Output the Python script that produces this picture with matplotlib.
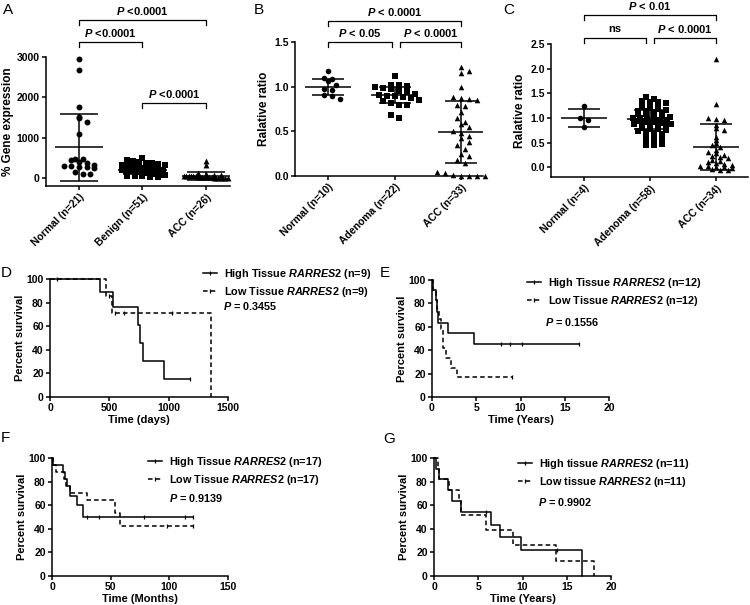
import matplotlib
matplotlib.use("Agg")
import matplotlib.pyplot as plt
import matplotlib.transforms as mtransforms
from matplotlib.lines import Line2D
import numpy as np

plt.rcParams["font.family"] = ["Liberation Sans", "DejaVu Sans"]
plt.rcParams["font.weight"] = "bold"
plt.rcParams["axes.labelweight"] = "bold"
plt.rcParams["mathtext.fontset"] = "custom"
plt.rcParams["mathtext.it"] = "Liberation Sans:italic:bold"
plt.rcParams["mathtext.rm"] = "Liberation Sans:bold"

W, H = 750, 605

# ---- panel A: % gene expression ----
a_labels = ["Normal (n=21)", "Benign (n=51)", "ACC (n=26)"]
a_normal = [2950, 2680, 1750, 1500, 1480, 1380, 1100, 480, 460, 440, 400, 370,
            330, 300, 290, 280, 270, 250, 150, 100, 100]
a_benign = [500, 450, 420, 400, 380, 360, 350, 330, 320, 310, 300, 290, 280, 270,
            260, 250, 250, 240, 230, 220, 220, 210, 200, 200, 190, 190, 180, 180,
            170, 170, 160, 160, 150, 150, 140, 140, 130, 130, 120, 120, 110, 100,
            100, 90, 80, 70, 60, 50, 40, 30, 20]
a_acc = [420, 320, 120, 100, 80, 70, 60, 55, 50, 45, 40, 40, 35, 30, 30, 25, 20,
         20, 15, 10, 10, 5, 5, 0, 0, 0]
a_mean = [760, 205, 55]
a_sd = [830, 100, 95]

# ---- panel B ----
b_labels = ["Normal (n=10)", "Adenoma (n=22)", "ACC (n=33)"]
b_normal = [1.17, 1.10, 1.09, 1.06, 1.02, 0.97, 0.96, 0.91, 0.90, 0.86]
b_adenoma = [1.12, 1.02, 1.02, 1.01, 1.00, 0.98, 0.97, 0.95, 0.94, 0.92, 0.91,
             0.90, 0.89, 0.88, 0.87, 0.85, 0.84, 0.82, 0.80, 0.79, 0.68, 0.65]
b_acc = [1.22, 1.18, 1.15, 1.00, 0.88, 0.87, 0.86, 0.85, 0.80, 0.78, 0.72, 0.65,
         0.60, 0.58, 0.55, 0.50, 0.48, 0.45, 0.42, 0.38, 0.35, 0.30, 0.25, 0.22,
         0.18, 0.15, 0.04, 0.03, 0.01, 0.0, 0.0, 0.0, 0.0]
b_mean = [1.0, 0.91, 0.49]
b_sd = [0.09, 0.09, 0.35]

# ---- panel C ----
c_labels = ["Normal (n=4)", "Adenoma (n=58)", "ACC (n=34)"]
c_normal = [1.25, 1.0, 0.95, 0.82]
c_adenoma = [1.43, 1.38, 1.35, 1.33, 1.32, 1.30, 1.28, 1.26, 1.25, 1.22, 1.20,
             1.18, 1.17, 1.15, 1.14, 1.12, 1.10, 1.08, 1.07, 1.05, 1.04, 1.02,
             1.00, 0.99, 0.98, 0.97, 0.96, 0.95, 0.94, 0.93, 0.92, 0.91, 0.90,
             0.89, 0.88, 0.87, 0.85, 0.84, 0.83, 0.81, 0.80, 0.78, 0.77, 0.75,
             0.73, 0.72, 0.70, 0.68, 0.66, 0.63, 0.60, 0.58, 0.55, 0.52, 0.50,
             0.47, 0.45, 0.44]
c_acc = [2.20, 1.28, 1.00, 0.97, 0.95, 0.85, 0.80, 0.75, 0.62, 0.55, 0.50, 0.45,
         0.40, 0.35, 0.30, 0.28, 0.25, 0.22, 0.20, 0.18, 0.15, 0.12, 0.10, 0.08,
         0.06, 0.05, 0.03, 0.02, 0.0, 0.0, -0.02, -0.04, -0.05, -0.05]
c_mean = [1.0, 0.97, 0.41]
c_sd = [0.18, 0.20, 0.47]

# ---- survival curves: step times, survival %, censor times ----
d_high_t = [0, 421, 530, 745, 762, 780, 962, 1180]
d_high_s = [100, 88.9, 76.2, 61.0, 45.7, 30.5, 15.2, 15.2]
d_high_cens = [60, 1180]
d_low_t = [0, 472, 522, 1355]
d_low_s = [100, 85.7, 71.4, 0]
d_low_cens = [495, 545, 620, 1030]

e_high_t = [0, 0.1, 0.4, 0.6, 0.7, 1.8, 4.75, 16.6]
e_high_s = [100, 91.7, 83.3, 72.7, 63.6, 54.5, 45.5, 45.5]
e_high_cens = [7.8, 8.8, 10.2, 16.6]
e_low_t = [0, 0.15, 0.4, 0.6, 0.8, 1.0, 1.2, 1.6, 2.2, 2.8, 9.0]
e_low_s = [100, 91.7, 83.3, 75.0, 66.7, 58.3, 41.7, 33.3, 25.0, 16.7, 16.7]
e_low_cens = [9.0]

f_high_t = [0, 1, 9, 11, 13, 15, 21, 26, 120]
f_high_s = [100, 94.1, 88.2, 82.4, 76.5, 68.0, 60.0, 50.0, 50.0]
f_high_cens = [30, 40, 78, 113, 120]
f_low_t = [0, 1, 3, 10, 12, 15, 30, 54, 58, 120]
f_low_s = [100, 94.1, 88.2, 82.4, 76.5, 70.6, 64.0, 53.0, 42.0, 42.0]
f_low_cens = [98, 120]

g_high_t = [0, 0.2, 0.57, 1.6, 2.0, 3.0, 6.4, 7.5, 9.8, 16.7]
g_high_s = [100, 90.9, 81.8, 72.7, 63.6, 54.5, 43.6, 32.7, 21.8, 0]
g_high_cens = [5.9, 13.9]
g_low_t = [0, 0.4, 0.6, 1.7, 2.8, 3.1, 5.9, 8.9, 13.8, 18.1]
g_low_s = [100, 90.9, 81.8, 72.7, 63.6, 51.9, 38.9, 25.9, 13.0, 0]
g_low_cens = []


def px_axes(fig, left, top, right, bottom):
    return fig.add_axes([left / W, 1 - bottom / H, (right - left) / W, (bottom - top) / H])


def fy(ypx):
    return 1 - ypx / H


def style_axis(ax):
    for side in ("top", "right"):
        ax.spines[side].set_visible(False)
    for side in ("left", "bottom"):
        ax.spines[side].set_linewidth(1.1)
    ax.tick_params(direction="out", length=3, width=1.1, labelsize=7.5, pad=1.5)


def set_yticks_bold(ax, ticks, fmt):
    ax.set_yticks(ticks)
    ax.set_yticklabels([fmt.format(t) for t in ticks], fontweight="bold", fontsize=7.5)


def set_xticks_bold(ax, ticks, fmt="{:g}"):
    ax.set_xticks(ticks)
    ax.set_xticklabels([fmt.format(t) for t in ticks], fontweight="bold", fontsize=7.5)


def swarm_offsets(values, row_h, step, max_width):
    # group points into horizontal rows, spread each row evenly around the center;
    # odd rows are shifted half a step so the rows interlock
    values = np.asarray(values, dtype=float)
    rows = np.round(values / row_h).astype(int)
    offs = np.zeros(len(values))
    for r in np.unique(rows):
        idx = np.where(rows == r)[0]
        n = len(idx)
        st = min(step, max_width / max(n, 1))
        shift = st / 2 if (r % 2 and n > 1) else 0.0
        offs[idx] = (np.arange(n) - (n - 1) / 2) * st + shift
    return offs


def scatter_panel(ax, groups, labels, means, sds, row_h, ms, mean_half, cap_half,
                  widths):
    markers = ["o", "s", "^"]
    for i, vals in enumerate(groups):
        x = i + swarm_offsets(vals, row_h, 0.12, widths[i])
        ax.scatter(x, vals, marker=markers[i], s=ms, c="black", linewidths=0,
                   zorder=3, clip_on=False)
        m, sd = means[i], sds[i]
        ax.hlines(m, i - mean_half, i + mean_half, color="black", lw=1.1, zorder=4)
        ax.vlines(i, m - sd, m + sd, color="black", lw=1.1, zorder=4)
        ax.hlines([m - sd, m + sd], i - cap_half, i + cap_half, color="black",
                  lw=1.1, zorder=4)
    ax.set_xticks(range(len(labels)))
    ax.set_xticklabels(labels, rotation=45, ha="right", rotation_mode="anchor",
                       fontsize=7.5, fontweight="bold")
    style_axis(ax)


def bracket(fig, ax, x0, x1, ypx, label, label_dy=9):
    tr = mtransforms.blended_transform_factory(ax.transData, fig.transFigure)
    ax.plot([x0, x0, x1, x1], [fy(ypx + 5), fy(ypx), fy(ypx), fy(ypx + 5)],
            color="black", lw=0.9, transform=tr, clip_on=False)
    ax.text((x0 + x1) / 2, fy(ypx - label_dy), label, transform=tr, ha="center",
            va="center", fontsize=8, fontweight="bold")


def survival_panel(ax, high, low, xlim, xticks, xlabel):
    for (t, s, cens), ls in ((high, "-"), (low, (0, (3, 2)))):
        ax.step(t, s, where="post", color="black", lw=1.1, linestyle=ls, clip_on=False)
        if cens:
            # survival level at each censor time (step function value)
            idx = np.searchsorted(t, cens, side="right") - 1
            cv = np.asarray(s)[idx]
            ax.plot(cens, cv, linestyle="none", marker="|", ms=3.5, mew=0.9,
                    color="black", clip_on=False)
    ax.set_xlim(*xlim)
    ax.set_ylim(0, 100)
    set_xticks_bold(ax, xticks)
    set_yticks_bold(ax, [0, 20, 40, 60, 80, 100], "{:g}")
    ax.set_xlabel(xlabel, fontsize=8, labelpad=1, fontweight="bold")
    ax.set_ylabel("Percent survival", fontsize=8, labelpad=1, fontweight="bold")
    style_axis(ax)


def survival_legend(fig, ax, xpx, ypx, labels):
    handles = [
        Line2D([], [], color="black", lw=1.1, ls="-", marker="|", ms=3, mew=0.9),
        Line2D([], [], color="black", lw=1.1, ls=(0, (3, 2)), marker="|", ms=3, mew=0.9),
    ]
    leg = ax.legend(handles, labels, loc="upper left", bbox_to_anchor=(xpx / W, fy(ypx)),
                    bbox_transform=fig.transFigure, frameon=False, fontsize=7.8,
                    handlelength=1.3, handletextpad=0.6, borderpad=0, borderaxespad=0,
                    labelspacing=0.35, numpoints=1)
    for txt in leg.get_texts():
        txt.set_fontweight("bold")


fig = plt.figure(figsize=(7.5, 6.05), dpi=100)

# A
ax_a = px_axes(fig, 46, 57, 230, 186)
scatter_panel(ax_a, [a_normal, a_benign, a_acc], a_labels, a_mean, a_sd,
              row_h=130, ms=18, mean_half=0.38, cap_half=0.3, widths=[0.7, 0.7, 0.72])
ax_a.set_xlim(-0.52, 2.38)
ax_a.set_ylim(-200, 3000)
set_yticks_bold(ax_a, [0, 1000, 2000, 3000], "{:d}")
ax_a.set_ylabel("% Gene expression", fontsize=8.5, labelpad=2, fontweight="bold")
bracket(fig, ax_a, 0, 2, 20, r"$P$ <0.0001")
bracket(fig, ax_a, 0, 1, 42, r"$P$ <0.0001")
bracket(fig, ax_a, 1, 2, 103, r"$P$ <0.0001")

# B
ax_b = px_axes(fig, 295, 42, 483, 176)
scatter_panel(ax_b, [b_normal, b_adenoma, b_acc], b_labels, b_mean, b_sd,
              row_h=0.08, ms=16, mean_half=0.35, cap_half=0.24, widths=[0.55, 0.75, 0.85])
ax_b.set_xlim(-0.5, 2.33)
ax_b.set_ylim(0, 1.5)
set_yticks_bold(ax_b, [0, 0.5, 1.0, 1.5], "{:.1f}")
ax_b.set_ylabel("Ralative ratio", fontsize=8.5, labelpad=3, fontweight="bold")
bracket(fig, ax_b, 0, 2, 21, r"$P$ < 0.0001")
bracket(fig, ax_b, 0, 0.96, 42, r"$P$ < 0.05")
bracket(fig, ax_b, 1.08, 2, 42, r"$P$ < 0.0001")

# C
ax_c = px_axes(fig, 551, 44, 748, 177)
scatter_panel(ax_c, [c_normal, c_adenoma, c_acc], c_labels, c_mean, c_sd,
              row_h=0.07, ms=16, mean_half=0.35, cap_half=0.24, widths=[0.35, 0.62, 0.85])
ax_c.set_xlim(-0.5, 2.48)
ax_c.set_ylim(-0.2, 2.5)
set_yticks_bold(ax_c, [0, 0.5, 1.0, 1.5, 2.0, 2.5], "{:.1f}")
ax_c.set_ylabel("Ralative ratio", fontsize=8.5, labelpad=3, fontweight="bold")
bracket(fig, ax_c, 0, 2, 15, r"$P$ < 0.01")
bracket(fig, ax_c, 0, 0.94, 38, "ns")
bracket(fig, ax_c, 1.06, 2, 38, r"$P$ < 0.0001")

# D
ax_d = px_axes(fig, 50, 279, 228, 397)
survival_panel(ax_d, (d_high_t, d_high_s, d_high_cens), (d_low_t, d_low_s, d_low_cens),
               (0, 1500), [0, 500, 1000, 1500], "Time (days)")
survival_legend(fig, ax_d, 203, 267,
                [r"High Tissue $\mathit{RARRES2}$ (n=9)", r"Low Tissue $\mathit{RARRES2}$ (n=9)"])
fig.text(223 / W, fy(306), r"$P$ = 0.3455", va="center", fontsize=7.8, fontweight="bold")

# E
ax_e = px_axes(fig, 432, 280, 609, 397)
survival_panel(ax_e, (e_high_t, e_high_s, e_high_cens), (e_low_t, e_low_s, e_low_cens),
               (0, 20), [0, 5, 10, 15, 20], "Time (Years)")
survival_legend(fig, ax_e, 527, 276,
                [r"High Tissue $\mathit{RARRES2}$ (n=12)", r"Low Tissue $\mathit{RARRES2}$ (n=12)"])
fig.text(545 / W, fy(322), r"$P$ = 0.1556", va="center", fontsize=7.8, fontweight="bold")

# F
ax_f = px_axes(fig, 52, 458, 228, 576)
survival_panel(ax_f, (f_high_t, f_high_s, f_high_cens), (f_low_t, f_low_s, f_low_cens),
               (0, 150), [0, 50, 100, 150], "Time (Months)")
survival_legend(fig, ax_f, 148, 455,
                [r"High Tissue $\mathit{RARRES2}$ (n=17)", r"Low Tissue $\mathit{RARRES2}$ (n=17)"])
fig.text(169 / W, fy(498), r"$P$ = 0.9139", va="center", fontsize=7.8, fontweight="bold")

# G
ax_g = px_axes(fig, 434, 458, 611, 576)
survival_panel(ax_g, (g_high_t, g_high_s, g_high_cens), (g_low_t, g_low_s, g_low_cens),
               (0, 20), [0, 5, 10, 15, 20], "Time (Years)")
survival_legend(fig, ax_g, 518, 457,
                [r"High tissue $\mathit{RARRES2}$ (n=11)", r"Low tissue $\mathit{RARRES2}$ (n=11)"])
fig.text(538 / W, fy(502), r"$P$ = 0.9902", va="center", fontsize=7.8, fontweight="bold")

# panel letters
for letter, xp, yp in (("A", 3, 3), ("B", 254, 3), ("C", 503, 3), ("D", 1, 266),
                       ("E", 380, 266), ("F", 1, 431), ("G", 383, 432)):
    fig.text(xp / W, fy(yp), letter, fontsize=11, fontweight="normal", va="top", ha="left")

fig.savefig("out.png", dpi=100)
